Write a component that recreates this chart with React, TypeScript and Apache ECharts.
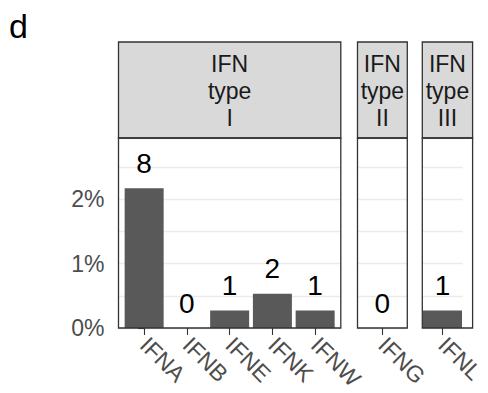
import React, { useEffect, useRef } from 'react';
import * as echarts from 'echarts';

const panelTitles = ['IFN\ntype\nI', 'IFN\ntype\nII', 'IFN\ntype\nIII'];
const panel1Genes = ['IFNA', 'IFNB', 'IFNE', 'IFNK', 'IFNW'];
const panel2Genes = ['IFNG'];
const panel3Genes = ['IFNL'];
const panel1Pct = [2.17, 0, 0.27, 0.53, 0.27];
const panel2Pct = [0];
const panel3Pct = [0.27];
const panel1Counts = [8, 0, 1, 2, 1];
const panel2Counts = [0];
const panel3Counts = [1];
const yTicks = [0, 1, 2];
const panelLabel = 'd';

const FONT = '"Liberation Sans", Arial, Helvetica, sans-serif';
const AXIS_TEXT = '#4D4D4D';
const BORDER = '#333333';

const genes = [panel1Genes, panel2Genes, panel3Genes];
const pcts = [panel1Pct, panel2Pct, panel3Pct];
const counts = [panel1Counts, panel2Counts, panel3Counts];

// panel layout (pixels)
const panels = [
  { x: 118.5, w: 222.3 },
  { x: 357.5, w: 49.8 },
  { x: 422.3, w: 50.3 },
];
const STRIP_TOP = 42;
const PANEL_TOP = 138;
const PANEL_H = 190;
const Y_MAX = 2.95;

export default function App() {
  const ref = useRef<HTMLDivElement>(null);
  useEffect(() => {
    if (!ref.current) return;
    const chart = echarts.init(ref.current, null, { renderer: 'svg' });

    const grid = panels.map((p) => ({
      left: p.x,
      top: PANEL_TOP,
      width: p.w,
      height: PANEL_H,
      show: false,
    }));

    const xAxis = genes.map((g, i) => {
      const idx = g.map((_, k) => k);
      return {
        type: 'value',
        gridIndex: i,
        min: -0.6,
        max: g.length - 0.4,
        axisLine: { show: false },
        splitLine: { show: false },
        axisTick: {
          show: true,
          customValues: idx,
          length: 7,
          lineStyle: { color: BORDER, width: 1.1 },
        },
        axisLabel: {
          show: true,
          customValues: idx,
          formatter: (v: number) => g[Math.round(v)] ?? '',
          rotate: -45,
          margin: 13,
          color: AXIS_TEXT,
          fontSize: 23,
          fontFamily: FONT,
        },
      };
    });

    const yAxisMain = genes.map((_, i) => ({
      type: 'value',
      gridIndex: i,
      min: 0,
      max: Y_MAX,
      axisLine: { show: false },
      axisTick: {
        show: i === 0,
        customValues: yTicks,
        length: 6,
        lineStyle: { color: BORDER, width: 1.1 },
      },
      axisLabel: {
        show: i === 0,
        customValues: yTicks,
        formatter: (v: number) => `${v}%`,
        margin: 14,
        color: AXIS_TEXT,
        fontSize: 23,
        fontFamily: FONT,
      },
      splitLine: { show: false },
    }));
    // gridline-only axes (major + minor lines every 0.5%)
    const yAxisGrid = genes.map((_, i) => ({
      type: 'value',
      gridIndex: i,
      min: 0,
      max: Y_MAX,
      interval: 0.5,
      axisLine: { show: false },
      axisTick: { show: false },
      axisLabel: { show: false },
      splitLine: { show: true, lineStyle: { color: '#EBEBEB', width: 1.4 } },
    }));

    const series = genes.map((_, i) => ({
      type: 'bar',
      xAxisIndex: i,
      yAxisIndex: i,
      barWidth: 39,
      data: pcts[i].map((v, k) => [k, v]),
      itemStyle: { color: '#595959' },
      label: {
        show: true,
        position: 'top',
        distance: 11,
        formatter: (p: any) => String(counts[i][p.dataIndex]),
        color: '#000000',
        fontSize: 28,
        fontFamily: FONT,
      },
    }));

    const graphic: any[] = [
      {
        type: 'text',
        x: 9,
        y: 26,
        style: {
          text: panelLabel,
          fill: '#000000',
          fontSize: 34,
          fontFamily: FONT,
          align: 'left',
          verticalAlign: 'middle',
        },
      },
    ];
    panels.forEach((p, i) => {
      graphic.push({
        type: 'rect',
        z: 100,
        shape: { x: p.x, y: STRIP_TOP, width: p.w, height: PANEL_TOP - STRIP_TOP },
        style: { fill: '#D9D9D9', stroke: BORDER, lineWidth: 1.3 },
      });
      graphic.push({
        type: 'text',
        z: 101,
        x: p.x + p.w / 2,
        y: (STRIP_TOP + PANEL_TOP) / 2 + 1,
        style: {
          text: panelTitles[i],
          fill: '#1A1A1A',
          fontSize: 23,
          fontFamily: FONT,
          lineHeight: 26.7,
          align: 'center',
          verticalAlign: 'middle',
        },
      });
      graphic.push({
        type: 'rect',
        z: 100,
        shape: { x: p.x, y: PANEL_TOP, width: p.w, height: PANEL_H },
        style: { fill: 'none', stroke: BORDER, lineWidth: 1.3 },
      });
    });

    chart.setOption({
      animation: false,
      backgroundColor: '#FFFFFF',
      grid,
      xAxis,
      yAxis: [...yAxisMain, ...yAxisGrid],
      series,
      graphic,
    } as any);

    return () => chart.dispose();
  }, []);

  return (
    <div
      ref={ref}
      style={{ position: 'fixed', left: 0, top: 0, width: 488, height: 393 }}
    />
  );
}
